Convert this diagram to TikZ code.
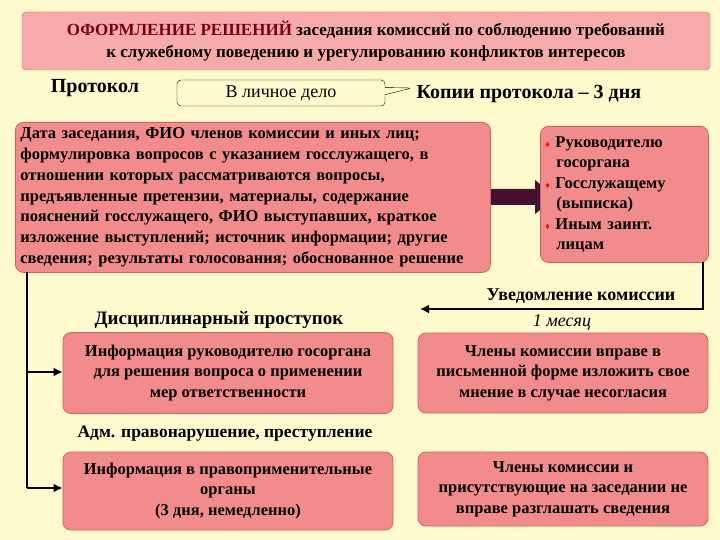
\documentclass[tikz,border=0pt]{standalone}
\usepackage{fontspec}
\setmainfont{Liberation Serif}
\usetikzlibrary{arrows.meta,shapes.callouts}
\definecolor{bg}{RGB}{255,250,205}
\definecolor{pinkbox}{RGB}{242,140,140}
\definecolor{pinkedge}{RGB}{200,100,100}
\definecolor{titlebg}{RGB}{246,170,170}
\definecolor{darkred}{RGB}{120,0,20}
\definecolor{arrowc}{RGB}{70,15,50}
\tikzset{
  pbox/.style={draw=pinkedge, fill=pinkbox, rounded corners=8pt, line width=0.8pt, font=\fontsize{16.5}{20.5}\selectfont\bfseries, align=center, inner sep=0pt},
  lbl/.style={font=\fontsize{19}{22}\selectfont\bfseries},
  conn/.style={line width=2.2pt, black},
}
\begin{document}
\begin{tikzpicture}[x=1pt,y=-1pt]
\fill[bg] (0,0) rectangle (720,540);
\useasboundingbox (0,0) rectangle (720,540);
% title
\node[draw=pinkedge, fill=titlebg, rounded corners=4pt, minimum width=688pt, minimum height=58pt, inner sep=0pt, align=center, font=\fontsize{17}{22}\selectfont\bfseries] (title) at (366,41)
 {{\color{darkred}ОФОРМЛЕНИЕ РЕШЕНИЙ} заседания комиссий по соблюдению требований\\к служебному поведению и урегулированию конфликтов интересов};
\node[lbl, font=\fontsize{20}{22}\selectfont\bfseries] (prot) at (95,88) {Протокол};
\node[rectangle callout, draw, rounded corners=4pt, minimum width=208pt, minimum height=26pt, callout absolute pointer={(412,88)}, font=\fontsize{18}{20}\selectfont] (lich) at (281,93) {В личное дело};
\node[font=\fontsize{20}{22}\selectfont\bfseries, anchor=west] (kopii) at (413,94) {Копии протокола – 3 дня};
% fat arrow (behind boxes)
\fill[arrowc] (485,189) -- (535,189) -- (535,180) -- (556,197) -- (535,214) -- (535,205) -- (485,205) -- cycle;
% main box
\node[pbox, minimum width=475pt, minimum height=150pt, align=left, anchor=north west, text width=465pt, inner xsep=5pt, font=\fontsize{16.5}{20.8}\selectfont\bfseries] (main) at (15,122)
 {Дата заседания, ФИО членов комиссии и иных лиц;\\формулировка вопросов с указанием госслужащего, в\\отношении которых рассматриваются вопросы,\\предъявленные претензии, материалы, содержание\\пояснений госслужащего, ФИО выступавших, краткое\\изложение выступлений; источник информации; другие\\сведения; результаты голосования; обоснованное решение};
\node[pbox, minimum width=168pt, minimum height=136pt, anchor=north west, align=left, text width=158pt, inner xsep=5pt, font=\fontsize{16.5}{20.5}\selectfont\bfseries] (copies) at (540,126)
 {{\color{red}\small♦} Руководителю\\\hspace*{11pt}госоргана\\{\color{red}\small♦} Госслужащему\\\hspace*{11pt}(выписка)\\{\color{red}\small♦} Иным заинт.\\\hspace*{11pt}лицам};
% lower boxes
\node[pbox, minimum width=330pt, minimum height=81pt] (disc) at (228,373)
 {Информация руководителю госоргана\\для решения вопроса о применении\\мер ответственности};
\node[pbox, minimum width=330pt, minimum height=78pt] (adm) at (228,491)
 {Информация в правоприменительные\\органы\\(3 дня, немедленно)};
\node[pbox, minimum width=290pt, minimum height=80pt] (opin) at (563,373)
 {Члены комиссии вправе в\\письменной форме изложить свое\\мнение в случае несогласия};
\node[pbox, minimum width=290pt, minimum height=74pt] (secr) at (563,489)
 {Члены комиссии и\\присутствующие на заседании не\\вправе разглашать сведения};
\node[lbl] (dl) at (219,320) {Дисциплинарный проступок};
\node[font=\fontsize{17.5}{20}\selectfont\bfseries] (al) at (225,434) {Адм. правонарушение, преступление};
\node[font=\fontsize{18}{20}\selectfont\bfseries] (ul) at (581,296) {Уведомление комиссии};
\node[font=\fontsize{18}{20}\selectfont\itshape] (ml) at (562,322) {1 месяц};
% connectors
\coordinate (lt) at (27,272);
\draw[conn] (lt) -- (27,488);
\draw[conn, -{Latex[length=9pt,width=9pt]}] (27,372) -- (disc.west |- 0,372);
\draw[conn, -{Latex[length=9pt,width=9pt]}] (27,488) -- (adm.west |- 0,488);
\coordinate (rt) at (703,262);
\coordinate (re) at (420,309);
\draw[conn, -{Latex[length=9pt,width=9pt]}] (rt) |- (re);
\end{tikzpicture}
\end{document}
